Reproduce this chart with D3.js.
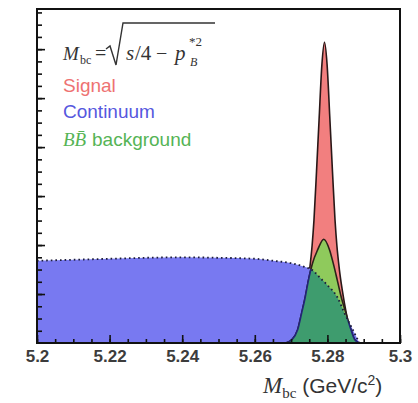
<!DOCTYPE html>
<html>
<head>
<meta charset="utf-8">
<script src="https://cdn.jsdelivr.net/npm/d3@7"></script>
<style>
  body { margin: 0; background: #fff; }
</style>
</head>
<body>
<div id="chart"></div>
<script>
// Taille de la figure
const width = 418;
const height = 403;
const margin = { left: 37, right: 18, top: 9, bottom: 60 };

// Axe x (M_bc en GeV/c2)
const xTickValues = [5.2, 5.22, 5.24, 5.26, 5.28, 5.3];
const xTickLabels = ["5.2", "5.22", "5.24", "5.26", "5.28", "5.3"];
const xMinorValues = d3.range(0, 21).map(i => 5.2 + i * 0.005);
const yMajorValues = [1, 2, 3, 4, 5, 6];
const yMinorValues = d3.range(1, 28).map(i => i * 0.25);

// Signal (pic autour de 5.279)
const signalX = [5.2699, 5.2710, 5.2721, 5.2732, 5.2743, 5.2751, 5.2758, 5.2763, 5.2770, 5.2777, 5.2785, 5.2792,
                 5.2799, 5.2807, 5.2814, 5.2821, 5.2826, 5.2833, 5.2841, 5.2852, 5.2863, 5.2874, 5.2885];
const signalY = [0, 0.05, 0.25, 0.61, 1.08, 1.50, 2.00, 2.51, 3.50, 4.55, 5.70, 6.14,
                 5.70, 4.55, 3.50, 2.51, 2.00, 1.50, 1.08, 0.61, 0.25, 0.05, 0];

// Continuum (forme ARGUS)
const continuumX = [5.200, 5.210, 5.220, 5.230, 5.240, 5.250, 5.260, 5.265, 5.270, 5.2735, 5.276, 5.278,
                    5.280, 5.2827, 5.2847, 5.2866, 5.2880, 5.2888];
const continuumY = [1.68, 1.70, 1.72, 1.74, 1.75, 1.74, 1.72, 1.68, 1.63, 1.56, 1.48, 1.33,
                    1.18, 0.94, 0.61, 0.33, 0.12, 0];

// Bruit de fond BB
const bbX = [5.2685, 5.2701, 5.2718, 5.2729, 5.2739, 5.2748, 5.2759, 5.2773, 5.2790,
             5.2806, 5.2816, 5.2827, 5.2838, 5.2851, 5.2865, 5.2876, 5.2888];
const bbY = [0, 0.06, 0.27, 0.61, 0.94, 1.29, 1.63, 1.90, 2.12,
             1.90, 1.63, 1.29, 0.94, 0.61, 0.27, 0.06, 0];

const legendLabels = ["Signal", "Continuum", "background"];
const legendColors = ["#ee7272", "#5657de", "#55b455"];

const signal = signalX.map((x, i) => ({ x, y: signalY[i] }));
const continuum = continuumX.map((x, i) => ({ x, y: continuumY[i] }));
const bb = bbX.map((x, i) => ({ x, y: bbY[i] }));

const svg = d3.select("#chart")
  .append("svg")
  .attr("width", width)
  .attr("height", height)
  .style("font-family", "'Liberation Sans', Arial, sans-serif");

const x = d3.scaleLinear().domain([5.2, 5.3]).range([margin.left, width - margin.right]);
const y = d3.scaleLinear().domain([0, 6.82]).range([height - margin.bottom, margin.top]);

const area = d3.area()
  .x(d => x(d.x))
  .y0(y(0))
  .y1(d => y(d.y))
  .curve(d3.curveMonotoneX);

const line = d3.line()
  .x(d => x(d.x))
  .y(d => y(d.y))
  .curve(d3.curveMonotoneX);

// clip pour la partie du BB sous le continuum
svg.append("clipPath")
  .attr("id", "clip-cont")
  .append("path")
  .attr("d", area(continuum));

// Signal
svg.append("path")
  .attr("d", area(signal))
  .attr("fill", "#f27f7f")
  .attr("stroke", "#2a1818")
  .attr("stroke-width", 1.6);

// Continuum
svg.append("path")
  .attr("d", area(continuum))
  .attr("fill", "#7879f1");

// BB
svg.append("path")
  .attr("d", area(bb))
  .attr("fill", "#8fca5c")
  .attr("stroke", "#2a2218")
  .attr("stroke-width", 1.6);

svg.append("path")
  .attr("d", area(bb))
  .attr("clip-path", "url(#clip-cont)")
  .attr("fill", "#3e9c6e")
  .attr("stroke", "#23237a")
  .attr("stroke-width", 1.6);

// ligne pointillee du continuum
svg.append("path")
  .attr("d", line(continuum))
  .attr("fill", "none")
  .attr("stroke", "#1c1c3c")
  .attr("stroke-width", 1.8)
  .attr("stroke-dasharray", "1.6,3");

// Axes (ticks vers l'interieur)
const xAxis = svg.append("g")
  .attr("transform", `translate(0,${y(0)})`)
  .call(d3.axisBottom(x).tickValues(xTickValues).tickSize(-8).tickPadding(7)
    .tickFormat((d, i) => xTickLabels[i]));
xAxis.selectAll("text")
  .attr("font-size", 17)
  .attr("font-weight", "bold")
  .attr("fill", "#3c3c3c");

svg.append("g")
  .attr("transform", `translate(0,${y(0)})`)
  .call(d3.axisBottom(x).tickValues(xMinorValues).tickSize(-4).tickFormat(""));

svg.append("g")
  .attr("transform", `translate(${margin.left},0)`)
  .call(d3.axisLeft(y).tickValues(yMajorValues).tickSize(-8).tickFormat(""));

svg.append("g")
  .attr("transform", `translate(${margin.left},0)`)
  .call(d3.axisLeft(y).tickValues(yMinorValues).tickSize(-5).tickFormat(""));

svg.selectAll(".domain").remove();
svg.selectAll(".tick line").attr("stroke", "#111").attr("stroke-width", 1.6);

// Cadre
svg.append("rect")
  .attr("x", margin.left)
  .attr("y", margin.top)
  .attr("width", width - margin.left - margin.right)
  .attr("height", height - margin.top - margin.bottom)
  .attr("fill", "none")
  .attr("stroke", "#111")
  .attr("stroke-width", 2);

// Formule M_bc = sqrt(s/4 - p_B*^2)
const serif = "'Liberation Serif', 'Times New Roman', serif";
const f = svg.append("g").attr("fill", "#333").style("font-family", serif);
f.append("text").attr("x", 63).attr("y", 60).attr("font-size", 19).attr("font-style", "italic").text("M");
f.append("text").attr("x", 80).attr("y", 64).attr("font-size", 12).text("bc");
f.append("text").attr("x", 95).attr("y", 60).attr("font-size", 20).text("=");
f.append("path")
  .attr("d", "M106,49 L110,46 L116,65 L123,23 L215,23")
  .attr("fill", "none")
  .attr("stroke", "#333")
  .attr("stroke-width", 1.4);
f.append("text").attr("x", 126).attr("y", 60).attr("font-size", 21).attr("font-style", "italic").text("s");
f.append("text").attr("x", 135).attr("y", 60).attr("font-size", 21).text("/4");
f.append("text").attr("x", 156).attr("y", 60).attr("font-size", 20).text("−");
f.append("text").attr("x", 175).attr("y", 60).attr("font-size", 21).attr("font-style", "italic").text("p");
f.append("text").attr("x", 189).attr("y", 46).attr("font-size", 13).text("*2");
f.append("text").attr("x", 190).attr("y", 66).attr("font-size", 12).attr("font-style", "italic").text("B");

// Legende
const legendY = [92, 118, 146];
svg.selectAll("text.legend")
  .data(legendLabels)
  .enter()
  .append("text")
  .attr("class", "legend")
  .attr("x", (d, i) => i === 2 ? 92 : 63)
  .attr("y", (d, i) => legendY[i])
  .attr("font-size", 19)
  .attr("fill", (d, i) => legendColors[i])
  .text(d => d);

const bbLabel = svg.append("text")
  .attr("x", 63)
  .attr("y", legendY[2])
  .attr("font-size", 19)
  .attr("font-style", "italic")
  .attr("fill", legendColors[2])
  .style("font-family", serif);
bbLabel.append("tspan").text("B");
bbLabel.append("tspan").text("B̄");

// Titre de l'axe x
const title = svg.append("text")
  .attr("x", 263)
  .attr("y", 393)
  .attr("fill", "#333");
title.append("tspan").style("font-family", serif).attr("font-style", "italic").attr("font-size", 23).text("M");
title.append("tspan").style("font-family", serif).attr("font-size", 15).attr("dy", 5).text("bc");
title.append("tspan").attr("font-size", 21).attr("dy", -5).text(" (GeV/c");
title.append("tspan").attr("font-size", 14).attr("dy", -8).text("2");
title.append("tspan").attr("font-size", 21).attr("dy", 8).text(")");
</script>
</body>
</html>
